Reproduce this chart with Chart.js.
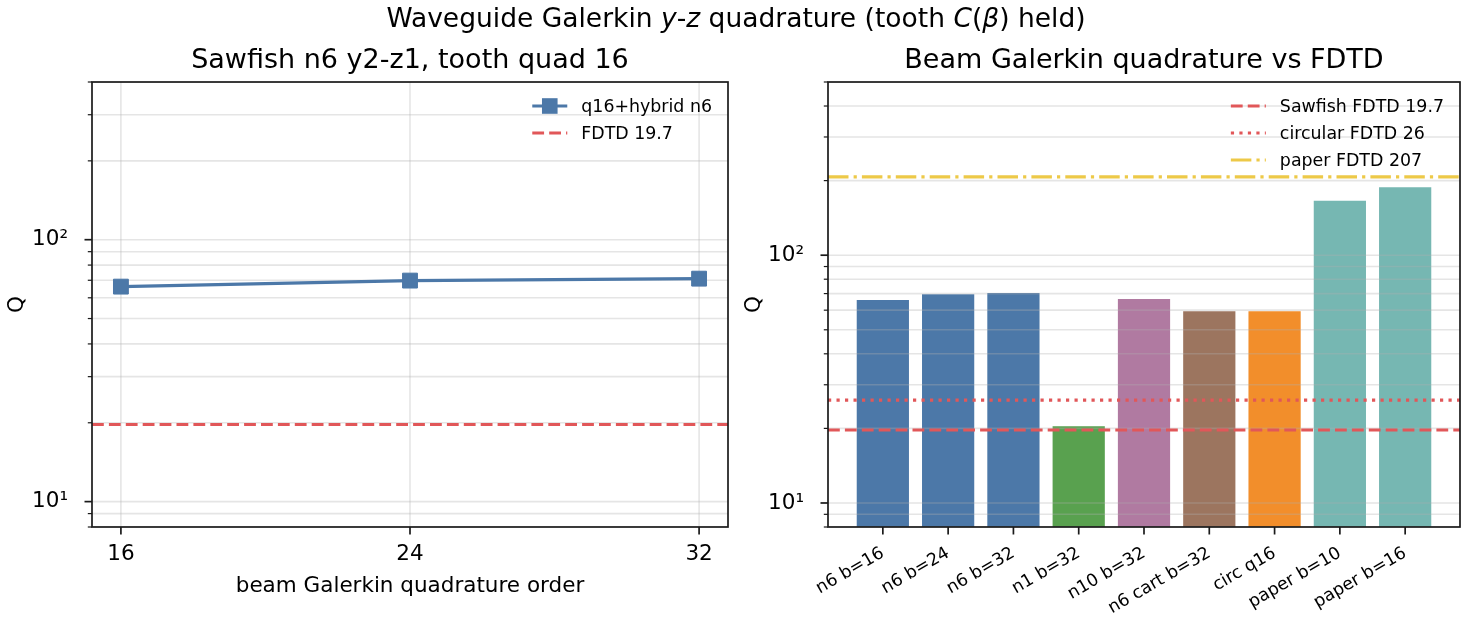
<!DOCTYPE html>
<html>
<head>
<meta charset="utf-8">
<script src="https://cdn.jsdelivr.net/npm/chart.js@4.4.1/dist/chart.umd.min.js"></script>
<style>
  body { margin: 0; background: #fff; }
  #page { position: relative; width: 1472px; height: 624px; overflow: hidden; font-family: "DejaVu Sans", sans-serif; color: #000; }
  .title { position: absolute; text-align: center; line-height: 32px; white-space: nowrap; z-index: 2; }
  #supTitle { left: 0; top: 2px; width: 1472px; font-size: 26.5px; }
  #leftTitle { left: 92px; top: 43px; width: 636px; font-size: 27px; }
  #rightTitle { left: 828px; top: 43px; width: 632px; font-size: 27px; }
  canvas { position: absolute; top: 0; }
  #leftChart { left: 0; }
  #rightChart { left: 740px; }
</style>
</head>
<body>
<div id="page">
  <div class="title" id="supTitle">Waveguide Galerkin <i>y</i>-<i>z</i> quadrature (tooth <i>C</i>(<i>β</i>) held)</div>
  <div class="title" id="leftTitle">Sawfish n6 y2-z1, tooth quad 16</div>
  <div class="title" id="rightTitle">Beam Galerkin quadrature vs FDTD</div>
  <canvas id="leftChart" width="740" height="624"></canvas>
  <canvas id="rightChart" width="732" height="624"></canvas>
</div>
<script>
// left panel: Q vs beam quadrature order
const quadOrders = [16, 24, 32];
const hybridQ = [66.2, 69.8, 71.0];
const sawfishFdtd = 19.7;
const leftYTicks = [8, 9, 10, 20, 30, 40, 50, 60, 70, 80, 90, 100, 200, 300, 400];

// right panel: bars per run + FDTD reference lines
const runLabels = ['n6 b=16', 'n6 b=24', 'n6 b=32', 'n1 b=32', 'n10 b=32', 'n6 cart b=32', 'circ q16', 'paper b=10', 'paper b=16'];
const runQ = [65.9, 69.6, 70.3, 20.4, 66.5, 59.4, 59.4, 166, 188];
const refNames = ['Sawfish FDTD 19.7', 'circular FDTD 26', 'paper FDTD 207'];
const refQ = [19.7, 26, 207];
const rightYTicks = [8, 9, 10, 20, 30, 40, 50, 60, 70, 80, 90, 100, 200, 300, 400, 500];
const majorY = [10, 100];

const BLUE = '#4c78a8', RED = '#e15759', YELLOW = '#edc948';
const runColors = [BLUE, BLUE, BLUE, '#59a14f', '#b07aa1', '#9c755f', '#f28e2b', '#76b7b2', '#76b7b2'];
const FONT = '"DejaVu Sans"';
const LW = 3.2;
const DASHED = [11.8, 5.1], DOTTED = [3.2, 5.3], DASHDOT = [20.5, 5.1, 3.2, 5.1];

Chart.defaults.font.family = FONT;
Chart.defaults.color = '#000';

function supLabel(v) {
  if (v === 10) return '10¹';
  if (v === 100) return '10²';
  return '';
}

function drawGrid(chart, opts) {
  const {ctx, chartArea: a, scales} = chart;
  ctx.save();
  ctx.beginPath();
  ctx.rect(a.left, a.top, a.right - a.left, a.bottom - a.top);
  ctx.clip();
  ctx.strokeStyle = 'rgba(176,176,176,0.33)';
  ctx.lineWidth = 1.6;
  scales.y.ticks.forEach(t => {
    const y = scales.y.getPixelForValue(t.value);
    ctx.beginPath(); ctx.moveTo(a.left, y); ctx.lineTo(a.right, y); ctx.stroke();
  });
  if (opts.xGrid) {
    scales.x.ticks.forEach(t => {
      const x = scales.x.getPixelForValue(t.value);
      ctx.beginPath(); ctx.moveTo(x, a.top); ctx.lineTo(x, a.bottom); ctx.stroke();
    });
  }
  ctx.restore();
}

function drawFrame(chart) {
  const {ctx, chartArea: a, scales} = chart;
  ctx.save();
  ctx.strokeStyle = '#1a1a1a';
  scales.y.ticks.forEach(t => {
    const y = scales.y.getPixelForValue(t.value);
    const major = majorY.includes(t.value);
    ctx.lineWidth = major ? 1.7 : 1.2;
    ctx.beginPath(); ctx.moveTo(a.left, y); ctx.lineTo(a.left - (major ? 7.5 : 4.2), y); ctx.stroke();
  });
  ctx.lineWidth = 1.7;
  scales.x.ticks.forEach(t => {
    const x = scales.x.getPixelForValue(t.value);
    ctx.beginPath(); ctx.moveTo(x, a.bottom); ctx.lineTo(x, a.bottom + 7.5); ctx.stroke();
  });
  ctx.strokeRect(a.left, a.top, a.right - a.left, a.bottom - a.top);
  ctx.restore();
}

function drawLegend(chart, items) {
  const {ctx, chartArea: a} = chart;
  ctx.save();
  ctx.font = '17.4px ' + FONT;
  const maxW = Math.max(...items.map(it => ctx.measureText(it.text).width));
  const textX = a.right - 16 - maxW;
  const x1 = textX - 14, x0 = x1 - 35;
  items.forEach((it, i) => {
    const y = a.top + 24 + i * 27;
    ctx.strokeStyle = it.color;
    ctx.lineWidth = LW;
    ctx.setLineDash(it.dash || []);
    ctx.beginPath(); ctx.moveTo(x0, y); ctx.lineTo(x1, y); ctx.stroke();
    ctx.setLineDash([]);
    if (it.marker) {
      ctx.fillStyle = it.color;
      ctx.fillRect((x0 + x1) / 2 - 7.8, y - 7.8, 15.6, 15.6);
    }
    ctx.fillStyle = '#000';
    ctx.textBaseline = 'middle';
    ctx.fillText(it.text, textX, y + 1);
  });
  ctx.restore();
}

const mplAxes = {
  id: 'mplAxes',
  beforeDatasetsDraw(chart, args, opts) { if (!opts.gridOverBars) drawGrid(chart, opts); },
  afterDatasetDraw(chart, args, opts) { if (opts.gridOverBars && args.meta.type === 'bar') drawGrid(chart, opts); },
  afterDraw(chart, args, opts) { drawFrame(chart); drawLegend(chart, opts.legend); }
};

function logAxis(ticks, min, max, width, titlePad) {
  return {
    type: 'logarithmic', min: min, max: max,
    afterFit: s => { s.width = width; },
    afterBuildTicks: s => { s.ticks = ticks.map(v => ({value: v})); },
    grid: {display: false}, border: {display: false},
    ticks: {autoSkip: false, padding: 16, font: {size: 21.5}, callback: v => supLabel(v)},
    title: {display: true, text: 'Q', font: {size: 21.5}, padding: {top: titlePad, bottom: 0}}
  };
}

// left chart
const leftXMin = 15.2, leftXMax = 32.8;
new Chart(document.getElementById('leftChart'), {
  type: 'line',
  data: {
    datasets: [
      {
        label: 'q16+hybrid n6',
        data: quadOrders.map((q, i) => ({x: q, y: hybridQ[i]})),
        borderColor: BLUE, backgroundColor: BLUE, borderWidth: LW,
        pointStyle: 'rect', pointRadius: 10.5, pointBorderWidth: 1, pointBackgroundColor: BLUE,
        tension: 0
      },
      {
        label: 'FDTD 19.7',
        data: [{x: leftXMin, y: sawfishFdtd}, {x: leftXMax, y: sawfishFdtd}],
        borderColor: RED, borderWidth: LW, borderDash: DASHED, pointRadius: 0
      }
    ]
  },
  options: {
    responsive: false, animation: false, devicePixelRatio: 1,
    layout: {padding: {left: 0, right: 12, top: 82, bottom: 25}},
    plugins: {
      legend: {display: false}, tooltip: {enabled: false},
      mplAxes: {
        xGrid: true,
        legend: [
          {text: 'q16+hybrid n6', color: BLUE, marker: true},
          {text: 'FDTD 19.7', color: RED, dash: DASHED}
        ]
      }
    },
    scales: {
      x: {
        type: 'linear', min: leftXMin, max: leftXMax,
        afterFit: s => { s.height = 72; },
        afterBuildTicks: s => { s.ticks = quadOrders.map(v => ({value: v})); },
        grid: {display: false}, border: {display: false},
        ticks: {padding: 7, font: {size: 21.5}, callback: v => String(v)},
        title: {display: true, text: 'beam Galerkin quadrature order', font: {size: 21.5}, padding: {top: 0, bottom: 0}}
      },
      y: logAxis(leftYTicks, 8, 400, 92, 5)
    }
  },
  plugins: [mplAxes]
});

// right chart
const rightXMin = -0.84, rightXMax = 8.84;
const refDashes = [DASHED, DOTTED, DASHDOT];
const refColors = [RED, RED, YELLOW];
new Chart(document.getElementById('rightChart'), {
  type: 'bar',
  data: {
    datasets: [
      {
        type: 'bar', order: 2,
        data: runQ.map((q, i) => ({x: i, y: q})),
        backgroundColor: runColors, barPercentage: 1, categoryPercentage: 0.8
      },
      ...refQ.map((q, i) => ({
        type: 'line', order: 1, label: refNames[i],
        data: [{x: rightXMin, y: q}, {x: rightXMax, y: q}],
        borderColor: refColors[i], borderWidth: LW, borderDash: refDashes[i], pointRadius: 0
      }))
    ]
  },
  options: {
    responsive: false, animation: false, devicePixelRatio: 1,
    layout: {padding: {left: 0, right: 12, top: 82, bottom: 0}},
    plugins: {
      legend: {display: false}, tooltip: {enabled: false},
      mplAxes: {
        gridOverBars: true,
        legend: refNames.map((n, i) => ({text: n, color: refColors[i], dash: refDashes[i]}))
      }
    },
    scales: {
      x: {
        type: 'linear', offset: false, min: rightXMin, max: rightXMax,
        afterFit: s => { s.height = 97; },
        afterBuildTicks: s => { s.ticks = runLabels.map((_, i) => ({value: i})); },
        grid: {display: false}, border: {display: false},
        ticks: {autoSkip: false, minRotation: 30, maxRotation: 30, padding: 8, font: {size: 17.4}, callback: v => runLabels[v]}
      },
      y: logAxis(rightYTicks, 8, 500, 88, 2)
    }
  },
  plugins: [mplAxes]
});
</script>
</body>
</html>
